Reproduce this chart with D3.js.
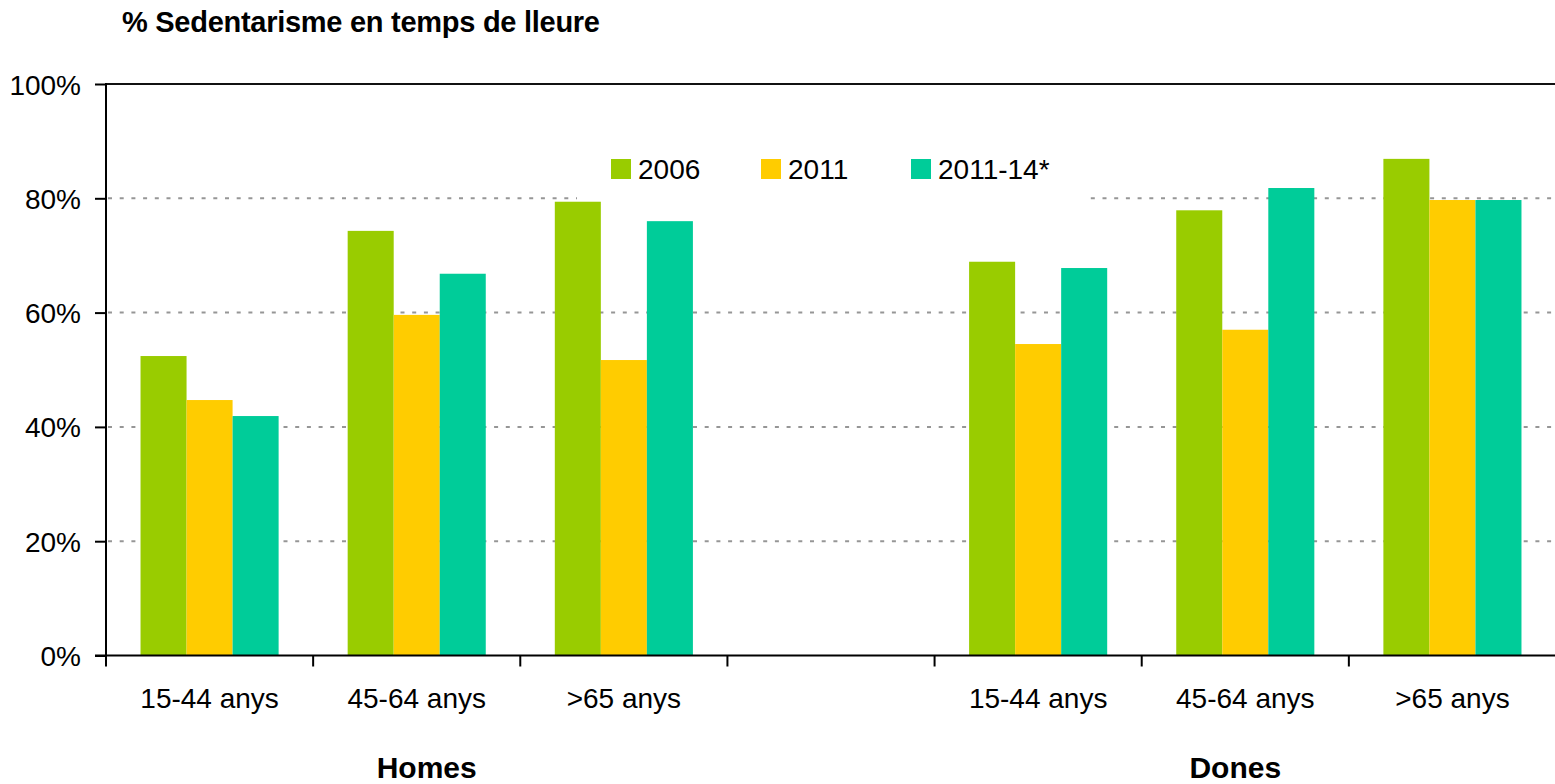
<!DOCTYPE html>
<html>
<head>
<meta charset="utf-8">
<script src="https://cdn.jsdelivr.net/npm/d3@7"></script>
<style>
  html, body { margin: 0; padding: 0; background: #fff; }
  svg { display: block; font-family: "Liberation Sans", Arial, sans-serif; }
</style>
</head>
<body>
<div id="chart"></div>
<script>
// data
const categories = ['15-44 anys', '45-64 anys', '>65 anys', '', '15-44 anys', '45-64 anys', '>65 anys']
const groups = ['Homes', 'Dones']
const series = ['2006', '2011', '2011-14*']
const values2006 = [52.4, 74.3, 79.4, null, 68.9, 77.9, 86.9]
const values2011 = [44.7, 59.6, 51.7, null, 54.5, 57.0, 79.7]
const values2011_14 = [41.9, 66.8, 76.0, null, 67.8, 81.8, 79.7]
const yTicks = [0, 20, 40, 60, 80, 100]

const colors = ['#99cc00', '#ffcc00', '#00cc99']
const seriesValues = [values2006, values2011, values2011_14]

const width = 1555
const height = 784
const plotLeft = 106, plotRight = 1556, plotTop = 84, plotBottom = 655.5

const svg = d3.select('#chart')
  .append('svg')
  .attr('width', width)
  .attr('height', height)

const x0 = d3.scaleBand()
  .domain(d3.range(categories.length))
  .range([plotLeft, plotRight])

// gap width 150% like excel
const x1 = d3.scaleBand()
  .domain(series)
  .range([0, x0.bandwidth()])
  .paddingOuter(0.75)

const y = d3.scaleLinear()
  .domain([0, 100])
  .range([plotBottom, plotTop])

// title
svg.append('text')
  .attr('x', 122)
  .attr('y', 32)
  .attr('font-size', 29)
  .attr('font-weight', 'bold')
  .attr('textLength', 478)
  .text('% Sedentarisme en temps de lleure')

// grid lines
svg.append('g')
  .selectAll('line')
  .data(yTicks.filter(d => d > 0 && d < 100))
  .enter().append('line')
  .attr('x1', plotLeft + 2)
  .attr('x2', plotRight)
  .attr('y1', d => y(d))
  .attr('y2', d => y(d))
  .attr('stroke', '#969696')
  .attr('stroke-width', 2)
  .attr('stroke-dasharray', '4,7.7')

// legend box hides grid behind it
svg.append('rect')
  .attr('x', 577)
  .attr('y', 140)
  .attr('width', 510)
  .attr('height', 64)
  .attr('fill', '#fff')

// bars
const rows = categories.map((c, i) => series.map((s, j) => ({ cat: i, key: s, value: seriesValues[j][i], color: colors[j] })))

svg.append('g')
  .selectAll('g')
  .data(rows)
  .enter().append('g')
  .attr('transform', (d, i) => `translate(${x0(i)},0)`)
  .selectAll('rect')
  .data(d => d.filter(v => v.value != null))
  .enter().append('rect')
  .attr('x', d => x1(d.key))
  .attr('y', d => y(d.value))
  .attr('width', x1.bandwidth())
  .attr('height', d => y(0) - y(d.value))
  .attr('fill', d => d.color)

// top border at 100%
svg.append('line')
  .attr('x1', plotLeft)
  .attr('x2', plotRight)
  .attr('y1', y(100))
  .attr('y2', y(100))
  .attr('stroke', '#111')
  .attr('stroke-width', 2)

// y axis
const yAxis = d3.axisLeft(y)
  .tickValues(yTicks)
  .tickSize(11)
  .tickPadding(14)
  .tickFormat(d => d + '%')

const yg = svg.append('g')
  .attr('transform', `translate(${plotLeft},0)`)
  .call(yAxis)
yg.select('.domain').remove()
yg.selectAll('.tick line').attr('stroke', '#000').attr('stroke-width', 2)
yg.selectAll('.tick text')
  .attr('font-size', 28)
  .attr('font-family', '"Liberation Sans", Arial, sans-serif')
  .attr('fill', '#000')
  .attr('dy', '0.36em')

svg.append('line')
  .attr('x1', plotLeft)
  .attr('x2', plotLeft)
  .attr('y1', plotTop - 1)
  .attr('y2', plotBottom + 1)
  .attr('stroke', '#000')
  .attr('stroke-width', 2)

// x axis labels
const xAxis = d3.axisBottom(x0)
  .tickSize(0)
  .tickPadding(33)
  .tickFormat(i => categories[i])

const xg = svg.append('g')
  .attr('transform', `translate(0,${plotBottom})`)
  .call(xAxis)
xg.select('.domain').remove()
xg.selectAll('.tick text')
  .attr('font-size', 28)
  .attr('font-family', '"Liberation Sans", Arial, sans-serif')
  .attr('fill', '#000')

// category boundary ticks
svg.append('g')
  .selectAll('line')
  .data(d3.range(categories.length + 1))
  .enter().append('line')
  .attr('x1', i => plotLeft + i * x0.step())
  .attr('x2', i => plotLeft + i * x0.step())
  .attr('y1', plotBottom)
  .attr('y2', plotBottom + 11)
  .attr('stroke', '#000')
  .attr('stroke-width', 2)

svg.append('line')
  .attr('x1', plotLeft - 11)
  .attr('x2', plotRight)
  .attr('y1', plotBottom)
  .attr('y2', plotBottom)
  .attr('stroke', '#000')
  .attr('stroke-width', 2)

// group labels
const groupCenters = [
  (x0(0) + x0(2) + x0.bandwidth()) / 2 + 10,
  (x0(4) + x0(6) + x0.bandwidth()) / 2 - 10
]
svg.append('g')
  .selectAll('text')
  .data(groups)
  .enter().append('text')
  .attr('x', (d, i) => groupCenters[i])
  .attr('y', 778)
  .attr('text-anchor', 'middle')
  .attr('font-size', 30)
  .attr('font-weight', 'bold')
  .text(d => d)

// legend
const legend = svg.append('g')
  .attr('transform', 'translate(611,159)')

const item = legend.selectAll('g')
  .data(series)
  .enter().append('g')
  .attr('transform', (d, i) => `translate(${i * 150},0)`)

item.append('rect')
  .attr('width', 20)
  .attr('height', 20)
  .attr('fill', (d, i) => colors[i])

item.append('text')
  .attr('x', 27)
  .attr('y', 20)
  .attr('font-size', 28)
  .text(d => d)
</script>
</body>
</html>
